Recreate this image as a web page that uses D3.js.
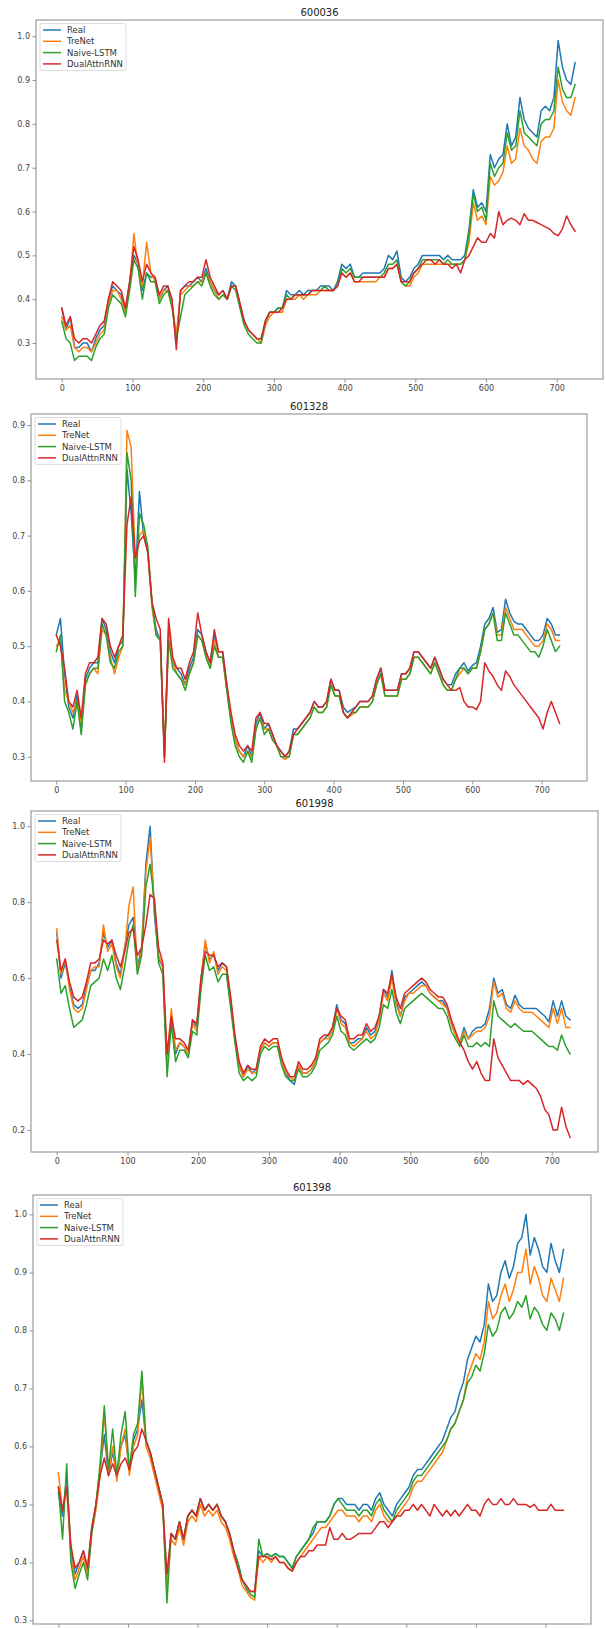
<!DOCTYPE html>
<html>
<head>
<meta charset="utf-8">
<script src="https://cdn.jsdelivr.net/npm/d3@7"></script>
<style>
  html, body { margin: 0; padding: 0; background: #fff; }
  svg { display: block; }
</style>
</head>
<body>
<svg id="chart" width="606" height="1629"></svg>
<script>
// Model predictions vs. real normalised price for four stocks.
// Each series is sampled every STEP trading days starting at day 0.
const STEP = 6;
const seriesNames = ["Real", "TreNet", "Naive-LSTM", "DualAttnRNN"];
const seriesColors = ["#1f77b4", "#ff7f0e", "#2ca02c", "#d62728"];
const xTickValues = [0, 100, 200, 300, 400, 500, 600, 700];

// ---- 600036 ----
const yTicks600036 = [0.3, 0.4, 0.5, 0.6, 0.7, 0.8, 0.9, 1.0];
const real600036 = [
  0.38,0.33,0.36,0.29,0.29,0.30,0.30,0.28,0.31,0.33,
  0.34,0.40,0.43,0.42,0.41,0.37,0.44,0.50,0.48,0.42,
  0.46,0.45,0.45,0.40,0.42,0.43,0.39,0.30,0.42,0.43,
  0.43,0.44,0.45,0.44,0.47,0.44,0.42,0.41,0.42,0.40,
  0.44,0.43,0.39,0.35,0.33,0.32,0.31,0.31,0.35,0.37,
  0.37,0.38,0.38,0.42,0.41,0.41,0.42,0.41,0.42,0.42,
  0.42,0.43,0.43,0.43,0.42,0.44,0.48,0.47,0.48,0.45,
  0.45,0.46,0.46,0.46,0.46,0.46,0.47,0.50,0.49,0.51,
  0.45,0.44,0.45,0.47,0.48,0.50,0.50,0.50,0.50,0.50,
  0.49,0.50,0.49,0.49,0.49,0.50,0.56,0.65,0.61,0.62,
  0.60,0.73,0.70,0.72,0.73,0.80,0.75,0.77,0.86,0.81,
  0.79,0.78,0.77,0.83,0.84,0.83,0.86,0.99,0.93,0.90,
  0.89,0.94];
const treNet600036 = [
  0.36,0.33,0.34,0.29,0.28,0.29,0.29,0.28,0.30,0.32,
  0.33,0.39,0.42,0.42,0.40,0.37,0.43,0.55,0.47,0.43,
  0.53,0.46,0.44,0.40,0.42,0.42,0.39,0.32,0.41,0.42,
  0.43,0.43,0.44,0.44,0.46,0.44,0.42,0.40,0.41,0.40,
  0.43,0.43,0.39,0.35,0.33,0.32,0.31,0.30,0.34,0.36,
  0.37,0.37,0.37,0.40,0.40,0.40,0.41,0.40,0.41,0.41,
  0.41,0.42,0.42,0.42,0.42,0.43,0.46,0.45,0.46,0.44,
  0.44,0.44,0.44,0.44,0.44,0.45,0.45,0.47,0.47,0.48,
  0.44,0.43,0.43,0.45,0.46,0.48,0.48,0.48,0.48,0.48,
  0.48,0.48,0.48,0.48,0.48,0.49,0.53,0.62,0.58,0.59,
  0.57,0.68,0.66,0.67,0.69,0.75,0.71,0.72,0.79,0.75,
  0.74,0.72,0.71,0.76,0.77,0.77,0.79,0.90,0.85,0.83,
  0.82,0.86];
const naive600036 = [
  0.35,0.31,0.30,0.26,0.27,0.27,0.27,0.26,0.29,0.31,
  0.32,0.38,0.41,0.40,0.39,0.36,0.42,0.49,0.47,0.40,
  0.46,0.44,0.44,0.39,0.41,0.42,0.38,0.31,0.36,0.41,
  0.42,0.43,0.44,0.43,0.46,0.43,0.41,0.40,0.41,0.40,
  0.43,0.42,0.38,0.34,0.32,0.31,0.30,0.30,0.35,0.37,
  0.37,0.38,0.38,0.41,0.40,0.41,0.41,0.41,0.41,0.42,
  0.42,0.42,0.43,0.42,0.42,0.43,0.47,0.46,0.47,0.45,
  0.45,0.45,0.45,0.45,0.45,0.45,0.46,0.48,0.48,0.49,
  0.44,0.43,0.44,0.46,0.47,0.49,0.49,0.49,0.49,0.49,
  0.48,0.49,0.48,0.48,0.48,0.49,0.55,0.64,0.60,0.61,
  0.58,0.71,0.68,0.70,0.71,0.78,0.74,0.75,0.83,0.78,
  0.77,0.76,0.75,0.80,0.81,0.81,0.83,0.93,0.88,0.86,
  0.86,0.89];
const dual600036 = [
  0.38,0.34,0.36,0.31,0.30,0.31,0.31,0.30,0.32,0.34,
  0.35,0.40,0.44,0.43,0.42,0.38,0.44,0.52,0.49,0.44,
  0.48,0.46,0.45,0.41,0.43,0.43,0.40,0.285,0.42,0.43,
  0.44,0.44,0.45,0.45,0.49,0.45,0.43,0.41,0.42,0.40,
  0.43,0.43,0.39,0.35,0.33,0.32,0.31,0.31,0.35,0.37,
  0.37,0.37,0.38,0.40,0.40,0.41,0.41,0.41,0.41,0.42,
  0.42,0.42,0.42,0.42,0.42,0.43,0.46,0.45,0.46,0.44,
  0.44,0.45,0.45,0.45,0.45,0.45,0.45,0.47,0.47,0.48,
  0.44,0.44,0.44,0.46,0.47,0.48,0.49,0.49,0.48,0.49,
  0.48,0.48,0.47,0.48,0.46,0.49,0.50,0.52,0.54,0.53,
  0.53,0.55,0.54,0.60,0.57,0.58,0.585,0.58,0.57,0.595,
  0.58,0.58,0.575,0.57,0.565,0.56,0.55,0.545,0.56,0.59,
  0.57,0.555];

// ---- 601328 ----
const yTicks601328 = [0.3, 0.4, 0.5, 0.6, 0.7, 0.8, 0.9];
const real601328 = [
  0.52,0.55,0.45,0.39,0.37,0.41,0.35,0.44,0.46,0.47,
  0.47,0.55,0.53,0.49,0.47,0.50,0.51,0.82,0.74,0.62,
  0.78,0.70,0.67,0.58,0.53,0.51,0.30,0.53,0.47,0.46,
  0.45,0.43,0.46,0.48,0.53,0.52,0.49,0.47,0.52,0.49,
  0.49,0.43,0.37,0.33,0.31,0.30,0.32,0.30,0.36,0.38,
  0.35,0.36,0.34,0.32,0.31,0.30,0.31,0.35,0.35,0.36,
  0.37,0.38,0.40,0.39,0.39,0.40,0.44,0.42,0.42,0.39,
  0.38,0.385,0.39,0.40,0.40,0.40,0.41,0.44,0.46,0.42,
  0.42,0.42,0.42,0.45,0.45,0.46,0.49,0.49,0.48,0.47,
  0.46,0.48,0.46,0.44,0.43,0.43,0.45,0.46,0.47,0.455,
  0.465,0.47,0.50,0.54,0.55,0.57,0.525,0.53,0.585,0.56,
  0.545,0.54,0.54,0.53,0.52,0.51,0.51,0.52,0.55,0.54,
  0.52,0.52];
const treNet601328 = [
  0.50,0.51,0.42,0.40,0.38,0.40,0.36,0.43,0.45,0.46,
  0.45,0.53,0.52,0.48,0.45,0.48,0.50,0.89,0.86,0.65,
  0.70,0.71,0.67,0.57,0.52,0.51,0.31,0.52,0.47,0.45,
  0.44,0.43,0.45,0.47,0.52,0.51,0.48,0.46,0.51,0.48,
  0.48,0.42,0.37,0.33,0.31,0.30,0.31,0.30,0.35,0.37,
  0.35,0.35,0.33,0.32,0.30,0.295,0.30,0.34,0.34,0.35,
  0.36,0.37,0.39,0.38,0.38,0.39,0.43,0.41,0.41,0.38,
  0.37,0.375,0.38,0.39,0.39,0.39,0.40,0.43,0.45,0.41,
  0.41,0.41,0.41,0.44,0.44,0.45,0.48,0.48,0.47,0.46,
  0.45,0.47,0.45,0.43,0.42,0.42,0.44,0.45,0.46,0.45,
  0.46,0.46,0.49,0.53,0.54,0.56,0.52,0.52,0.57,0.55,
  0.53,0.53,0.53,0.52,0.51,0.50,0.50,0.51,0.54,0.53,
  0.51,0.51];
const naive601328 = [
  0.49,0.52,0.40,0.38,0.35,0.40,0.34,0.43,0.45,0.46,
  0.46,0.54,0.52,0.47,0.46,0.49,0.50,0.85,0.80,0.59,
  0.74,0.72,0.68,0.58,0.52,0.51,0.30,0.51,0.46,0.45,
  0.44,0.42,0.45,0.47,0.52,0.51,0.48,0.46,0.50,0.48,
  0.48,0.42,0.36,0.32,0.30,0.29,0.31,0.29,0.35,0.37,
  0.34,0.35,0.33,0.32,0.30,0.30,0.30,0.34,0.34,0.35,
  0.36,0.37,0.39,0.38,0.38,0.39,0.43,0.41,0.41,0.38,
  0.37,0.38,0.38,0.39,0.39,0.39,0.40,0.43,0.45,0.41,
  0.41,0.41,0.41,0.44,0.44,0.45,0.48,0.48,0.47,0.46,
  0.45,0.47,0.45,0.43,0.42,0.42,0.44,0.46,0.46,0.45,
  0.46,0.46,0.49,0.53,0.54,0.56,0.51,0.51,0.56,0.54,
  0.52,0.52,0.51,0.50,0.49,0.49,0.48,0.50,0.53,0.51,
  0.49,0.50];
const dual601328 = [
  0.52,0.50,0.46,0.40,0.39,0.42,0.37,0.45,0.47,0.47,
  0.48,0.55,0.54,0.50,0.48,0.50,0.52,0.72,0.77,0.66,
  0.69,0.70,0.67,0.58,0.55,0.53,0.29,0.55,0.48,0.46,
  0.46,0.44,0.47,0.49,0.56,0.52,0.49,0.47,0.53,0.49,
  0.49,0.43,0.38,0.34,0.32,0.31,0.32,0.31,0.37,0.38,
  0.36,0.36,0.34,0.32,0.31,0.30,0.31,0.34,0.35,0.36,
  0.37,0.38,0.40,0.39,0.39,0.40,0.44,0.42,0.42,0.38,
  0.37,0.38,0.39,0.40,0.40,0.40,0.41,0.44,0.46,0.42,
  0.42,0.42,0.42,0.45,0.45,0.46,0.49,0.49,0.48,0.47,
  0.46,0.48,0.46,0.44,0.43,0.42,0.42,0.425,0.40,0.39,
  0.39,0.385,0.40,0.47,0.455,0.445,0.43,0.42,0.455,0.445,
  0.43,0.42,0.41,0.40,0.39,0.38,0.37,0.35,0.38,0.40,
  0.38,0.36];

// ---- 601998 ----
const yTicks601998 = [0.2, 0.4, 0.6, 0.8, 1.0];
const real601998 = [
  0.72,0.60,0.64,0.58,0.53,0.52,0.53,0.58,0.62,0.62,
  0.64,0.72,0.68,0.70,0.64,0.61,0.68,0.74,0.76,0.63,
  0.68,0.90,1.00,0.77,0.65,0.63,0.36,0.50,0.40,0.43,
  0.42,0.40,0.49,0.47,0.60,0.69,0.65,0.66,0.62,0.64,
  0.63,0.54,0.44,0.37,0.34,0.37,0.35,0.36,0.41,0.43,
  0.42,0.43,0.43,0.38,0.35,0.33,0.32,0.37,0.35,0.35,
  0.36,0.38,0.43,0.44,0.45,0.47,0.53,0.49,0.48,0.43,
  0.43,0.44,0.44,0.47,0.45,0.46,0.50,0.57,0.55,0.62,
  0.54,0.50,0.55,0.56,0.57,0.58,0.59,0.58,0.56,0.55,
  0.54,0.54,0.52,0.48,0.45,0.43,0.47,0.44,0.46,0.47,
  0.47,0.48,0.52,0.60,0.56,0.57,0.53,0.52,0.555,0.53,
  0.52,0.52,0.52,0.52,0.51,0.50,0.485,0.54,0.50,0.54,
  0.50,0.49];
const treNet601998 = [
  0.73,0.61,0.65,0.57,0.52,0.51,0.52,0.57,0.62,0.63,
  0.63,0.74,0.67,0.69,0.63,0.60,0.67,0.79,0.84,0.62,
  0.67,0.88,0.97,0.79,0.66,0.63,0.37,0.52,0.41,0.43,
  0.42,0.40,0.48,0.46,0.59,0.70,0.64,0.67,0.61,0.63,
  0.62,0.53,0.44,0.37,0.34,0.36,0.35,0.35,0.41,0.43,
  0.42,0.43,0.43,0.38,0.35,0.34,0.33,0.37,0.35,0.35,
  0.36,0.38,0.43,0.44,0.44,0.46,0.52,0.48,0.47,0.43,
  0.42,0.43,0.44,0.46,0.44,0.45,0.49,0.56,0.54,0.60,
  0.53,0.50,0.54,0.56,0.56,0.57,0.58,0.58,0.56,0.55,
  0.54,0.53,0.52,0.48,0.45,0.43,0.46,0.44,0.45,0.46,
  0.46,0.47,0.50,0.59,0.55,0.56,0.52,0.51,0.54,0.52,
  0.51,0.51,0.51,0.50,0.49,0.48,0.47,0.52,0.48,0.52,
  0.47,0.47];
const naive601998 = [
  0.65,0.56,0.58,0.52,0.47,0.48,0.49,0.53,0.58,0.59,
  0.60,0.65,0.62,0.66,0.60,0.57,0.63,0.70,0.74,0.61,
  0.66,0.84,0.90,0.80,0.64,0.61,0.34,0.48,0.38,0.41,
  0.41,0.39,0.46,0.45,0.57,0.66,0.62,0.63,0.59,0.61,
  0.61,0.52,0.43,0.35,0.33,0.34,0.33,0.34,0.40,0.42,
  0.41,0.42,0.42,0.37,0.34,0.33,0.33,0.36,0.34,0.34,
  0.35,0.37,0.41,0.42,0.43,0.45,0.50,0.46,0.45,0.42,
  0.41,0.42,0.43,0.44,0.43,0.44,0.47,0.53,0.52,0.57,
  0.51,0.48,0.52,0.53,0.54,0.55,0.56,0.55,0.54,0.53,
  0.52,0.52,0.50,0.46,0.44,0.42,0.45,0.42,0.42,0.43,
  0.42,0.43,0.42,0.54,0.50,0.49,0.48,0.47,0.48,0.47,
  0.46,0.46,0.46,0.45,0.44,0.43,0.42,0.42,0.41,0.45,
  0.42,0.40];
const dual601998 = [
  0.70,0.62,0.65,0.59,0.55,0.54,0.55,0.59,0.64,0.64,
  0.65,0.70,0.69,0.70,0.66,0.63,0.67,0.72,0.73,0.66,
  0.68,0.74,0.82,0.81,0.68,0.64,0.40,0.50,0.44,0.44,
  0.43,0.41,0.49,0.48,0.60,0.67,0.66,0.66,0.63,0.64,
  0.63,0.55,0.45,0.38,0.35,0.37,0.36,0.36,0.42,0.44,
  0.43,0.44,0.44,0.39,0.36,0.34,0.34,0.38,0.36,0.36,
  0.37,0.39,0.44,0.45,0.45,0.47,0.52,0.50,0.49,0.44,
  0.44,0.45,0.45,0.48,0.46,0.47,0.50,0.57,0.56,0.61,
  0.55,0.52,0.56,0.57,0.58,0.59,0.60,0.59,0.57,0.56,
  0.55,0.55,0.53,0.49,0.46,0.43,0.41,0.38,0.36,0.38,
  0.35,0.33,0.33,0.44,0.39,0.37,0.35,0.33,0.33,0.33,
  0.32,0.33,0.32,0.31,0.29,0.255,0.24,0.20,0.20,0.26,
  0.21,0.18];

// ---- 601398 ----
const yTicks601398 = [0.3, 0.4, 0.5, 0.6, 0.7, 0.8, 0.9, 1.0];
const real601398 = [
  0.52,0.48,0.55,0.42,0.38,0.40,0.42,0.39,0.46,0.50,
  0.56,0.62,0.55,0.59,0.55,0.60,0.62,0.56,0.61,0.63,
  0.68,0.61,0.59,0.56,0.53,0.50,0.36,0.45,0.44,0.47,
  0.44,0.48,0.49,0.48,0.51,0.49,0.50,0.49,0.50,0.48,
  0.47,0.45,0.42,0.40,0.37,0.36,0.35,0.35,0.42,0.41,
  0.415,0.41,0.415,0.41,0.41,0.40,0.39,0.41,0.42,0.43,
  0.44,0.45,0.47,0.47,0.47,0.48,0.50,0.51,0.51,0.50,
  0.50,0.50,0.49,0.50,0.50,0.49,0.51,0.52,0.50,0.49,
  0.48,0.50,0.51,0.52,0.53,0.55,0.56,0.56,0.57,0.58,
  0.59,0.60,0.61,0.63,0.65,0.66,0.69,0.71,0.75,0.77,
  0.79,0.78,0.81,0.88,0.85,0.86,0.90,0.92,0.89,0.91,
  0.95,0.96,1.00,0.93,0.96,0.94,0.91,0.90,0.95,0.92,
  0.90,0.94];
const treNet601398 = [
  0.555,0.49,0.53,0.41,0.37,0.39,0.41,0.38,0.45,0.49,
  0.55,0.66,0.55,0.60,0.54,0.60,0.63,0.55,0.60,0.62,
  0.72,0.60,0.58,0.55,0.52,0.49,0.36,0.44,0.43,0.46,
  0.43,0.47,0.48,0.47,0.50,0.48,0.49,0.48,0.49,0.47,
  0.46,0.44,0.41,0.39,0.36,0.35,0.34,0.335,0.41,0.40,
  0.41,0.40,0.41,0.40,0.40,0.39,0.385,0.40,0.41,0.42,
  0.43,0.44,0.45,0.46,0.46,0.47,0.48,0.49,0.49,0.48,
  0.48,0.48,0.47,0.48,0.48,0.47,0.49,0.50,0.48,0.47,
  0.47,0.48,0.49,0.50,0.51,0.53,0.54,0.54,0.55,0.56,
  0.57,0.58,0.59,0.61,0.63,0.64,0.66,0.68,0.72,0.74,
  0.76,0.75,0.78,0.85,0.82,0.83,0.86,0.88,0.85,0.87,
  0.90,0.90,0.94,0.88,0.91,0.89,0.86,0.85,0.89,0.87,
  0.85,0.89];
const naive601398 = [
  0.53,0.44,0.57,0.40,0.355,0.38,0.40,0.37,0.45,0.50,
  0.57,0.67,0.56,0.63,0.55,0.62,0.66,0.56,0.62,0.64,
  0.73,0.61,0.59,0.56,0.53,0.50,0.33,0.45,0.44,0.47,
  0.44,0.48,0.49,0.48,0.51,0.49,0.50,0.49,0.50,0.48,
  0.47,0.45,0.42,0.40,0.37,0.355,0.345,0.34,0.44,0.41,
  0.415,0.41,0.415,0.41,0.41,0.40,0.39,0.41,0.42,0.43,
  0.44,0.46,0.47,0.47,0.47,0.48,0.50,0.51,0.50,0.49,
  0.49,0.49,0.48,0.49,0.49,0.48,0.50,0.51,0.49,0.48,
  0.47,0.49,0.50,0.51,0.52,0.54,0.55,0.55,0.56,0.57,
  0.58,0.59,0.60,0.61,0.63,0.64,0.66,0.68,0.71,0.72,
  0.74,0.73,0.76,0.81,0.79,0.80,0.83,0.84,0.82,0.83,
  0.85,0.84,0.86,0.82,0.84,0.83,0.81,0.80,0.83,0.82,
  0.80,0.83];
const dual601398 = [
  0.53,0.49,0.53,0.43,0.39,0.40,0.42,0.39,0.46,0.50,
  0.55,0.58,0.55,0.57,0.55,0.57,0.58,0.56,0.59,0.60,
  0.63,0.61,0.59,0.56,0.53,0.50,0.38,0.45,0.44,0.47,
  0.44,0.48,0.49,0.48,0.51,0.49,0.50,0.49,0.50,0.48,
  0.47,0.45,0.42,0.39,0.37,0.36,0.35,0.35,0.41,0.41,
  0.41,0.405,0.41,0.40,0.40,0.39,0.385,0.40,0.41,0.41,
  0.42,0.42,0.43,0.43,0.43,0.46,0.44,0.44,0.45,0.44,
  0.44,0.445,0.45,0.45,0.45,0.45,0.46,0.47,0.47,0.46,
  0.47,0.48,0.48,0.49,0.49,0.50,0.49,0.50,0.49,0.48,
  0.50,0.49,0.48,0.49,0.48,0.49,0.48,0.49,0.50,0.49,
  0.49,0.48,0.50,0.51,0.50,0.50,0.51,0.50,0.50,0.51,
  0.50,0.50,0.50,0.495,0.50,0.49,0.49,0.49,0.50,0.49,
  0.49,0.49];

// Day index of every sample.
const days = d3.range(0, real600036.length * STEP, STEP);

// Axes placement (pixels) and value limits for each subplot.
// The last subplot runs to the bottom edge of the page, so its
// day labels fall outside the drawing and are left out.
const X_DOMAIN = [-36.45, 765.45];
const panels = [
  { title: "600036", frame: { left: 36, right: 603, top: 20, bottom: 379 },
    yDomain: [0.218, 1.037], yTicks: yTicks600036, xLabels: true,
    series: [real600036, treNet600036, naive600036, dual600036] },
  { title: "601328", frame: { left: 31, right: 587, top: 414, bottom: 781 },
    yDomain: [0.256, 0.92], yTicks: yTicks601328, xLabels: true,
    series: [real601328, treNet601328, naive601328, dual601328] },
  { title: "601998", frame: { left: 31, right: 598, top: 811, bottom: 1152 },
    yDomain: [0.142, 1.040], yTicks: yTicks601998, xLabels: true,
    series: [real601998, treNet601998, naive601998, dual601998] },
  { title: "601398", frame: { left: 33, right: 591, top: 1195, bottom: 1624 },
    yDomain: [0.2938, 1.0335], yTicks: yTicks601398, xLabels: false,
    series: [real601398, treNet601398, naive601398, dual601398] }
];

const FONT = "'DejaVu Sans', Verdana, sans-serif";
const svg = d3.select("#chart");
svg.append("rect").attr("width", 606).attr("height", 1629).attr("fill", "#fff");
const defs = svg.append("defs");

panels.forEach((p, pi) => {
  const f = p.frame;
  const x = d3.scaleLinear().domain(X_DOMAIN).range([f.left, f.right]);
  const y = d3.scaleLinear().domain(p.yDomain).range([f.bottom, f.top]);
  const g = svg.append("g").attr("class", "panel");

  defs.append("clipPath").attr("id", "clip" + pi)
    .append("rect")
    .attr("x", f.left).attr("y", f.top)
    .attr("width", f.right - f.left).attr("height", f.bottom - f.top);

  // series lines
  const line = d3.line().x((d, i) => x(days[i])).y(d => y(d));
  const plot = g.append("g").attr("clip-path", `url(#clip${pi})`);
  p.series.forEach((vals, si) => {
    plot.append("path")
      .attr("d", line(vals))
      .attr("fill", "none")
      .attr("stroke", seriesColors[si])
      .attr("stroke-width", 1.5)
      .attr("stroke-linejoin", "round")
      .attr("stroke-linecap", "round");
  });

  // axes
  const xAxis = g.append("g")
    .attr("transform", `translate(0,${f.bottom})`)
    .call(d3.axisBottom(x).tickValues(xTickValues)
      .tickFormat(p.xLabels ? d3.format("d") : () => "")
      .tickSize(3.5).tickPadding(2.5));
  const yAxis = g.append("g")
    .attr("transform", `translate(${f.left},0)`)
    .call(d3.axisLeft(y).tickValues(p.yTicks).tickFormat(d3.format(".1f"))
      .tickSize(3.5).tickPadding(2.5));
  [xAxis, yAxis].forEach(a => {
    a.select(".domain").remove();
    a.selectAll(".tick line").attr("stroke", "#777").attr("stroke-width", 0.8);
    a.selectAll(".tick text").attr("fill", "#444")
      .style("font-family", FONT).style("font-size", "8px");
  });
  if (!p.xLabels) xAxis.selectAll(".tick text").remove();

  // frame
  g.append("rect")
    .attr("x", f.left).attr("y", f.top)
    .attr("width", f.right - f.left).attr("height", f.bottom - f.top)
    .attr("fill", "none").attr("stroke", "#888").attr("stroke-width", 1);

  // title
  g.append("text")
    .attr("x", (f.left + f.right) / 2).attr("y", f.top - 4.5)
    .attr("text-anchor", "middle")
    .attr("fill", "#222")
    .style("font-family", FONT).style("font-size", "10px")
    .text(p.title);

  // legend
  const lg = g.append("g").attr("transform", `translate(${f.left + 4},${f.top + 3.5})`);
  lg.append("rect")
    .attr("width", 86).attr("height", 47).attr("rx", 2)
    .attr("fill", "#fff").attr("fill-opacity", 0.8)
    .attr("stroke", "#d4d4d4").attr("stroke-width", 0.8);
  seriesNames.forEach((name, si) => {
    const yy = 6.5 + si * 11.3;
    lg.append("line")
      .attr("x1", 3).attr("x2", 21).attr("y1", yy).attr("y2", yy)
      .attr("stroke", seriesColors[si]).attr("stroke-width", 1.5);
    lg.append("text")
      .attr("x", 27).attr("y", yy).attr("dy", "0.35em")
      .attr("fill", "#333")
      .style("font-family", FONT).style("font-size", "8.5px")
      .text(name);
  });
});
</script>
</body>
</html>
